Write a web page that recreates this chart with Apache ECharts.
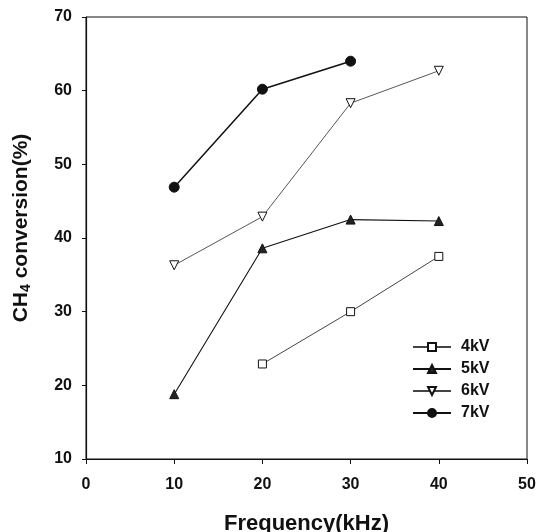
<!DOCTYPE html>
<html>
<head>
<meta charset="utf-8">
<script src="https://cdn.jsdelivr.net/npm/echarts@6/dist/echarts.min.js"></script>
<style>
  html, body { margin: 0; padding: 0; background: #fff; }
  #chart { width: 538px; height: 532px; }
</style>
</head>
<body>
<div id="chart"></div>
<script>
// Discharge frequency (kHz) and methane conversion (%) at each applied voltage
const frequencies = [10, 20, 30, 40];
const conv4kV = [null, 22.9, 30.0, 37.5];
const conv5kV = [18.8, 38.6, 42.5, 42.3];
const conv6kV = [36.3, 42.9, 58.3, 62.7];
const conv7kV = [46.9, 60.2, 64.0, null];
const xTicks = [0, 10, 20, 30, 40, 50];
const yTicks = [10, 20, 30, 40, 50, 60, 70];

const pairs = vals => frequencies.map((f, i) => [f, vals[i]]).filter(p => p[1] !== null);

const font = '"Liberation Sans", Arial, sans-serif';

const chart = echarts.init(document.getElementById('chart'), null, { renderer: 'canvas' });

const mk = (name, vals, symbol, size, fill, lineColor, lw, rotate) => ({
  name,
  type: 'line',
  data: pairs(vals),
  symbol,
  symbolSize: size,
  symbolRotate: rotate || 0,
  showAllSymbol: true,
  lineStyle: { color: lineColor, width: lw },
  itemStyle: { color: fill, borderColor: '#111', borderWidth: 1 },
  emphasis: { disabled: true },
  animation: false,
  z: 3
});

chart.setOption({
  animation: false,
  grid: {
    left: 86, right: 11, top: 17, bottom: 73,
    outerBoundsMode: 'none',
    containLabel: false,
    show: true, borderColor: '#111', borderWidth: 1
  },
  legend: {
    left: 407, top: 334,
    orient: 'vertical',
    itemGap: 6,
    itemWidth: 38,
    itemHeight: 10,
    textStyle: { fontFamily: font, fontWeight: 'bold', fontSize: 16, color: '#111', padding: [0, 0, 0, 5] },
    data: ['4kV', '5kV', '6kV', '7kV']
  },
  xAxis: {
    type: 'value',
    min: xTicks[0], max: xTicks[xTicks.length - 1], interval: 10,
    name: 'Frequency(kHz)',
    nameLocation: 'middle',
    nameGap: 54,
    nameTextStyle: { fontFamily: font, fontWeight: 'bold', fontSize: 22, color: '#111' },
    axisLine: { lineStyle: { color: '#111', width: 1.2 } },
    axisTick: { inside: false, length: 5, lineStyle: { color: '#111' } },
    axisLabel: { margin: 18, fontFamily: font, fontWeight: 'bold', fontSize: 16, color: '#111' },
    splitLine: { show: false }
  },
  yAxis: {
    type: 'value',
    min: yTicks[0], max: yTicks[yTicks.length - 1], interval: 10,
    name: '{a|CH}{s|4}{a| conversion(%)}',
    nameLocation: 'middle',
    nameGap: 53,
    nameTextStyle: {
      padding: [0, 0, 0, 20],
      rich: {
        a: { fontFamily: font, fontWeight: 'bold', fontSize: 21, color: '#111' },
        s: { fontFamily: font, fontWeight: 'bold', fontSize: 14, color: '#111', padding: [9, 0, 0, 0] }
      }
    },
    axisLine: { lineStyle: { color: '#111', width: 1.2 } },
    axisTick: { inside: false, length: 4, lineStyle: { color: '#111' } },
    axisLabel: { margin: 14, fontFamily: font, fontWeight: 'bold', fontSize: 16, color: '#111' },
    splitLine: { show: false }
  },
  series: [
    mk('4kV', conv4kV, 'rect', 8, '#fff', '#444', 1),
    mk('5kV', conv5kV, 'triangle', 9, '#222', '#111', 1.1),
    mk('6kV', conv6kV, 'triangle', 9, '#fff', '#444', 0.9, 180),
    mk('7kV', conv7kV, 'circle', 10, '#111', '#111', 1.5)
  ]
});
</script>
</body>
</html>
